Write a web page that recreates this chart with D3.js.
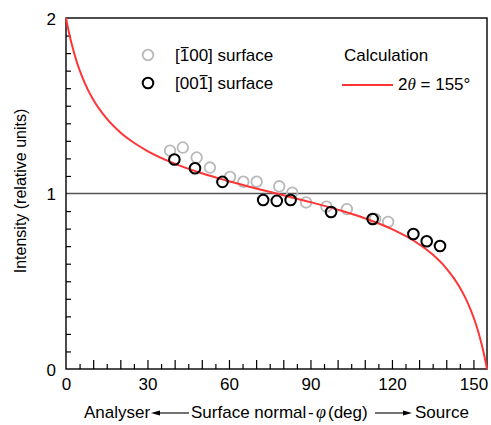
<!DOCTYPE html>
<html>
<head>
<meta charset="utf-8">
<script src="https://cdn.jsdelivr.net/npm/d3@7"></script>
<style>
  html, body { margin: 0; padding: 0; background: #fff; }
  svg { display: block; }
  text { font-family: "Liberation Sans", Arial, Helvetica, sans-serif; fill: #000; }
</style>
</head>
<body>
<svg id="chart" width="491" height="425"></svg>
<script>
// ---- data ----
const grayPhi = [38.3, 43.0, 48.1, 53.0, 60.4, 65.3, 70.2, 78.5, 83.3, 88.4, 95.9, 103.4, 113.8, 118.6];
const grayI   = [1.244, 1.262, 1.205, 1.148, 1.094, 1.067, 1.067, 1.041, 1.005, 0.949, 0.925, 0.911, 0.855, 0.838];
const blackPhi = [39.9, 47.5, 57.6, 72.6, 77.6, 82.7, 97.6, 112.9, 127.9, 132.8, 137.7];
const blackI   = [1.194, 1.144, 1.066, 0.963, 0.958, 0.963, 0.895, 0.855, 0.769, 0.728, 0.701];
const calcPhi = [0, 1, 2, 4, 6, 8, 10, 15, 20, 25, 30, 40, 50, 60, 70, 77.5, 80, 90, 100, 110, 120, 125, 130, 135, 140, 145, 147, 149, 151, 153, 154, 155];
const calcI   = [2, 1.923, 1.857, 1.748, 1.663, 1.593, 1.535, 1.426, 1.348, 1.289, 1.242, 1.170, 1.115, 1.070, 1.029, 1.0, 0.990, 0.951, 0.908, 0.859, 0.797, 0.758, 0.711, 0.652, 0.574, 0.465, 0.407, 0.337, 0.252, 0.143, 0.0766, 0];
const xLabelTicks = [0, 30, 60, 90, 120, 150];
const yLabelTicks = [0, 1, 2];

// ---- layout ----
const svg = d3.select("#chart");
const L = 66, R = 487, T = 18, B = 369;
const x = d3.scaleLinear().domain([0, 155]).range([L, R]);
const y = d3.scaleLinear().domain([0, 2]).range([B, T]);
const red = "#ff3535", grayC = "#b9b9b9";

// reference line at I = 1
svg.append("line").attr("x1", L).attr("x2", R).attr("y1", y(1)).attr("y2", y(1))
  .attr("stroke", "#555").attr("stroke-width", 1.5);

// x axis: long ticks every 10, short ticks at odd 5s, labels every 30
const longT = d3.range(10, 151, 10);
const shortT = d3.range(5, 151, 10);
const gxL = svg.append("g").attr("transform", `translate(0,${B})`)
  .call(d3.axisBottom(x).tickValues(longT).tickSize(-9).tickFormat(""));
const gxS = svg.append("g").attr("transform", `translate(0,${B})`)
  .call(d3.axisBottom(x).tickValues(shortT).tickSize(-5).tickFormat(""));
const gxLab = svg.append("g").attr("transform", `translate(0,${B})`)
  .call(d3.axisBottom(x).tickValues(xLabelTicks).tickSize(0).tickPadding(0).tickFormat(d3.format("d")));
[gxL, gxS, gxLab].forEach(g => { g.select(".domain").remove(); g.selectAll(".tick line").attr("stroke", "#000").attr("stroke-width", 1.2); });
gxLab.selectAll(".tick text").attr("y", 21).attr("dy", 0).style("font-size", "17px")
  .style("font-family", '"Liberation Sans", Arial, sans-serif').attr("fill", "#000");

// y axis: ticks every 0.1 inward, labels 0,1,2
const yT = d3.range(1, 20).filter(v => v !== 10).map(v => v / 10);
const gy = svg.append("g").attr("transform", `translate(${L},0)`)
  .call(d3.axisLeft(y).tickValues(yT).tickSize(-5).tickFormat(""));
const gyLab = svg.append("g").attr("transform", `translate(${L},0)`)
  .call(d3.axisLeft(y).tickValues(yLabelTicks).tickSize(0).tickPadding(10).tickFormat(d3.format("d")));
[gy, gyLab].forEach(g => { g.select(".domain").remove(); g.selectAll(".tick line").attr("stroke", "#000").attr("stroke-width", 1.2); });
gyLab.selectAll(".tick text").style("font-size", "17px").attr("dy", "0.36em")
  .style("font-family", '"Liberation Sans", Arial, sans-serif').attr("fill", "#000");

// frame
svg.append("rect").attr("x", L).attr("y", T).attr("width", R - L).attr("height", B - T)
  .attr("fill", "none").attr("stroke", "#000").attr("stroke-width", 1.4);

// data points
const grayData = grayPhi.map((p, i) => ({ p, v: grayI[i] }));
const blackData = blackPhi.map((p, i) => ({ p, v: blackI[i] }));
svg.append("g").selectAll("circle").data(grayData).join("circle")
  .attr("cx", d => x(d.p)).attr("cy", d => y(d.v)).attr("r", 5.3)
  .attr("fill", "none").attr("stroke", grayC).attr("stroke-width", 1.8);

// calculation curve
const calcData = calcPhi.map((p, i) => ({ p, v: calcI[i] }));
svg.append("path").datum(calcData)
  .attr("d", d3.line().x(d => x(d.p)).y(d => y(d.v)).curve(d3.curveMonotoneX))
  .attr("fill", "none").attr("stroke", red).attr("stroke-width", 2);

svg.append("g").selectAll("circle").data(blackData).join("circle")
  .attr("cx", d => x(d.p)).attr("cy", d => y(d.v)).attr("r", 5.3)
  .attr("fill", "none").attr("stroke", "#000").attr("stroke-width", 2);

// legend
function barText(tx, ty, str, idx) {
  const t = svg.append("text").attr("x", tx).attr("y", ty).style("font-size", "17px").text(str);
  const e = t.node().getExtentOfChar(idx);
  svg.append("line").attr("x1", e.x + 1).attr("x2", e.x + e.width - 0.5)
    .attr("y1", e.y + 1.6).attr("y2", e.y + 1.6).attr("stroke", "#000").attr("stroke-width", 1.1);
}
svg.append("circle").attr("cx", 148).attr("cy", 55).attr("r", 5.3)
  .attr("fill", "none").attr("stroke", grayC).attr("stroke-width", 1.8);
svg.append("circle").attr("cx", 148).attr("cy", 83).attr("r", 5.3)
  .attr("fill", "none").attr("stroke", "#000").attr("stroke-width", 2);
barText(175, 61, "[100] surface", 1);
barText(175, 89, "[001] surface", 3);
svg.append("text").attr("x", 344).attr("y", 61).style("font-size", "17px").text("Calculation");
svg.append("line").attr("x1", 342).attr("x2", 393).attr("y1", 85).attr("y2", 85)
  .attr("stroke", red).attr("stroke-width", 2);
const cl = svg.append("text").attr("x", 398).attr("y", 90).style("font-size", "17px");
cl.append("tspan").text("2");
cl.append("tspan").style("font-family", '"Liberation Serif", "Times New Roman", serif').style("font-style", "italic").text("θ");
cl.append("tspan").text(" = 155°");

// y title
svg.append("text").attr("transform", "translate(26,191) rotate(-90)")
  .attr("text-anchor", "middle").style("font-size", "16px").text("Intensity (relative units)");

// x title with arrows
const ty = 418, ay = 413;
svg.append("text").attr("x", 84).attr("y", ty).style("font-size", "17px").text("Analyser");
svg.append("text").attr("x", 191).attr("y", ty).style("font-size", "17px").text("Surface normal");
svg.append("text").attr("x", 308).attr("y", ty).style("font-size", "17px").text("-");
svg.append("text").attr("x", 316).attr("y", ty)
  .style("font-family", '"Liberation Serif", "Times New Roman", serif').style("font-style", "italic").style("font-size", "18px").text("φ");
svg.append("text").attr("x", 328).attr("y", ty).style("font-size", "17px").text("(deg)");
svg.append("text").attr("x", 415).attr("y", ty).style("font-size", "17px").text("Source");
function arrow(x1, x2) {
  const dir = Math.sign(x2 - x1);
  svg.append("line").attr("x1", x1).attr("x2", x2 - dir * 6).attr("y1", ay).attr("y2", ay)
    .attr("stroke", "#000").attr("stroke-width", 1.1);
  svg.append("path").attr("d", `M${x2},${ay} L${x2 - dir * 9},${ay - 2.6} L${x2 - dir * 9},${ay + 2.6} Z`).attr("fill", "#000");
}
arrow(189, 151);
arrow(375, 412);
</script>
</body>
</html>
